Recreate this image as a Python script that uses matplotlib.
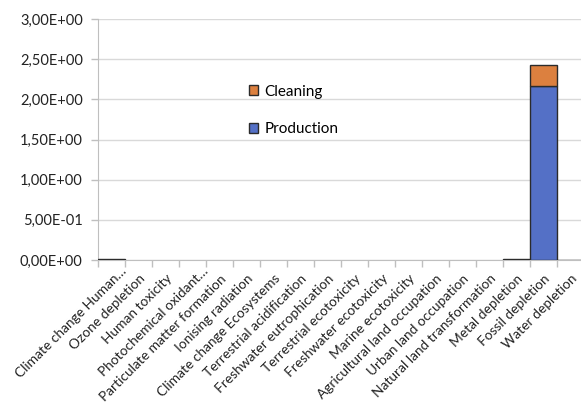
import matplotlib
matplotlib.use("Agg")
import matplotlib.pyplot as plt
from matplotlib.ticker import FixedLocator, FuncFormatter
from matplotlib.transforms import ScaledTranslation
from matplotlib.patches import Patch
import numpy as np

categories = ["Climate change Human…", "Ozone depletion", "Human toxicity",
              "Photochemical oxidant…", "Particulate matter formation",
              "Ionising radiation", "Climate change Ecosystems",
              "Terrestrial acidification", "Freshwater eutrophication",
              "Terrestrial ecotoxicity", "Freshwater ecotoxicity",
              "Marine ecotoxicity", "Agricultural land occupation",
              "Urban land occupation", "Natural land transformation",
              "Metal depletion", "Fossil depletion", "Water depletion"]
production = [0.01, 0, 0, 0, 0, 0, 0, 0, 0, 0, 0, 0, 0, 0, 0, 0.008, 2.16, 0.005]
cleaning = [0.0, 0, 0, 0, 0, 0, 0, 0, 0, 0, 0, 0, 0, 0, 0, 0.0, 0.27, 0.0]
yticks = [0, 0.5, 1.0, 1.5, 2.0, 2.5, 3.0]

plt.rcParams['font.family'] = ['Lato', 'DejaVu Sans']

fig = plt.figure(figsize=(5.81, 4.05), dpi=100)
ax = fig.add_axes([98/581, 145/405, (584-98)/581, (260-19)/405])

x = np.arange(len(categories))
blue = "#5470C6"
orange = "#DC803F"
edge = "#2b2b2b"
pe = [edge if v > 0 else "none" for v in production]
ce = [edge if v > 0 else "none" for v in cleaning]
ax.bar(x, production, width=1.0, color=blue, edgecolor=pe, linewidth=1.0,
       label="Production", zorder=3)
ax.bar(x, cleaning, width=1.0, bottom=production, color=orange, edgecolor=ce,
       linewidth=1.0, label="Cleaning", zorder=3)

ax.set_xlim(-0.5, len(categories) - 0.5)
ax.set_ylim(0, 3.0)
ax.set_yticks(yticks)
ax.yaxis.set_major_formatter(FuncFormatter(
    lambda v, p: ("%.2E" % v).replace(".", ",")))
ax.grid(axis='y', color="#D9D9D9", linewidth=1.0, zorder=0)
ax.set_axisbelow(True)

ax.set_xticks(x)
ax.set_xticklabels(categories, rotation=45, ha='right', rotation_mode='anchor',
                   fontsize=9.9, color="#222222")
ax.tick_params(axis='x', which='major', length=0, pad=9)
ax.xaxis.set_minor_locator(FixedLocator(np.arange(-0.5, len(categories), 1.0)))
ax.tick_params(axis='x', which='minor', length=5, color="#BFBFBF", width=1)
ax.tick_params(axis='y', length=5, color="#BFBFBF", width=1, labelsize=10.5,
               labelcolor="#222222", pad=6)

# truncated labels sit a little further along their direction (as in the source)
for lab in ax.get_xticklabels():
    if lab.get_text().endswith("…"):
        lab.set_transform(lab.get_transform() +
                          ScaledTranslation(6.5/72, 5.5/72, fig.dpi_scale_trans))

for s in ['top', 'right']:
    ax.spines[s].set_visible(False)
ax.spines['left'].set_color("#BFBFBF")
ax.spines['bottom'].set_color("#BFBFBF")

handles = [Patch(facecolor=orange, edgecolor=edge, linewidth=1.0),
           Patch(facecolor=blue, edgecolor=edge, linewidth=1.0)]
leg = ax.legend(handles, ["Cleaning", "Production"], loc='upper left',
                bbox_to_anchor=(0.283, 0.785),
                frameon=False, fontsize=11, labelspacing=1.55, handlelength=0.6,
                handleheight=0.6, handletextpad=0.4)

fig.savefig("out.png", dpi=100)
